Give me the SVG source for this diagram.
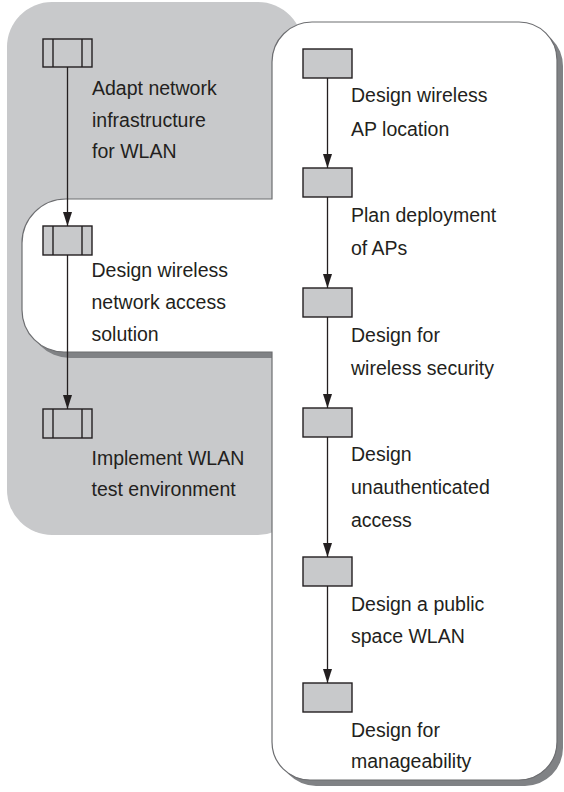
<svg xmlns="http://www.w3.org/2000/svg" width="564" height="792" viewBox="0 0 564 792">
<style>
.t{font-family:"Liberation Sans",Arial,sans-serif;font-size:19.5px;fill:#231f20}
.b{fill:#c8c9cb;stroke:#231f20;stroke-width:1.4}
.c{stroke:#231f20;stroke-width:1.3;fill:none;marker-end:url(#ah)}
</style>
<defs>
<marker id="ah" markerUnits="userSpaceOnUse" markerWidth="14" markerHeight="9" refX="14" refY="4.5" orient="auto">
<path d="M0,0 L14,4.5 L0,9 Z" fill="#231f20"/>
</marker>
<path id="panel" d="M312,22 H519 A38,38 0 0 1 557,60 V742 A38,38 0 0 1 519,780 H310 A38,38 0 0 1 272,742 V352 H64 A42,42 0 0 1 22,310 V243 A44,44 0 0 1 66,199 H272 V62 A40,40 0 0 1 312,22 Z"/>
</defs>
<g id="background">
<rect x="7" y="2" width="296" height="533" rx="45" ry="45" fill="#c8c9cb"/>
<use href="#panel" transform="translate(6,6)" fill="#808285"/>
<use href="#panel" fill="#ffffff" stroke="#6d6e71" stroke-width="1.2"/>
</g>
<g id="connectors">
<line class="c" x1="67.5" y1="67" x2="67.5" y2="226"/>
<line class="c" x1="67.5" y1="255" x2="67.5" y2="409"/>
<line class="c" x1="327.5" y1="78" x2="327.5" y2="168"/>
<line class="c" x1="327.5" y1="197" x2="327.5" y2="288"/>
<line class="c" x1="327.5" y1="317" x2="327.5" y2="408"/>
<line class="c" x1="327.5" y1="437" x2="327.5" y2="557"/>
<line class="c" x1="327.5" y1="586" x2="327.5" y2="683"/>
</g>
<g id="node-adapt">
<rect class="b" x="43" y="39" width="49" height="28"/>
<line x1="53" y1="39" x2="53" y2="67" stroke="#231f20" stroke-width="1.4"/>
<line x1="82" y1="39" x2="82" y2="67" stroke="#231f20" stroke-width="1.4"/>
<text class="t" x="92"><tspan x="92" y="95">Adapt network</tspan><tspan x="92" y="127">infrastructure</tspan><tspan x="92" y="158">for WLAN</tspan></text>
</g>
<g id="node-design-access">
<rect class="b" x="43" y="226" width="49" height="29"/>
<line x1="53" y1="226" x2="53" y2="255" stroke="#231f20" stroke-width="1.4"/>
<line x1="82" y1="226" x2="82" y2="255" stroke="#231f20" stroke-width="1.4"/>
<text class="t"><tspan x="91.5" y="277">Design wireless</tspan><tspan x="91.5" y="309">network access</tspan><tspan x="91.5" y="341">solution</tspan></text>
</g>
<g id="node-implement">
<rect class="b" x="43" y="409" width="49" height="29"/>
<line x1="53" y1="409" x2="53" y2="438" stroke="#231f20" stroke-width="1.4"/>
<line x1="82" y1="409" x2="82" y2="438" stroke="#231f20" stroke-width="1.4"/>
<text class="t"><tspan x="91.5" y="465">Implement WLAN</tspan><tspan x="91.5" y="496">test environment</tspan></text>
</g>
<g id="node-ap-location">
<rect class="b" x="303" y="49" width="49" height="29"/>
<text class="t"><tspan x="351" y="102">Design wireless</tspan><tspan x="351" y="136">AP location</tspan></text>
</g>
<g id="node-plan-deployment">
<rect class="b" x="303" y="168" width="49" height="29"/>
<text class="t"><tspan x="351" y="222">Plan deployment</tspan><tspan x="351" y="255">of APs</tspan></text>
</g>
<g id="node-security">
<rect class="b" x="303" y="288" width="49" height="29"/>
<text class="t"><tspan x="351" y="342">Design for</tspan><tspan x="351" y="375">wireless security</tspan></text>
</g>
<g id="node-unauthenticated">
<rect class="b" x="303" y="408" width="49" height="29"/>
<text class="t"><tspan x="351" y="461">Design</tspan><tspan x="351" y="494">unauthenticated</tspan><tspan x="351" y="527">access</tspan></text>
</g>
<g id="node-public-space">
<rect class="b" x="303" y="557" width="49" height="29"/>
<text class="t"><tspan x="351" y="611">Design a public</tspan><tspan x="351" y="643">space WLAN</tspan></text>
</g>
<g id="node-manageability">
<rect class="b" x="303" y="683" width="49" height="29"/>
<text class="t"><tspan x="351" y="737">Design for</tspan><tspan x="351" y="768">manageability</tspan></text>
</g>
</svg>
